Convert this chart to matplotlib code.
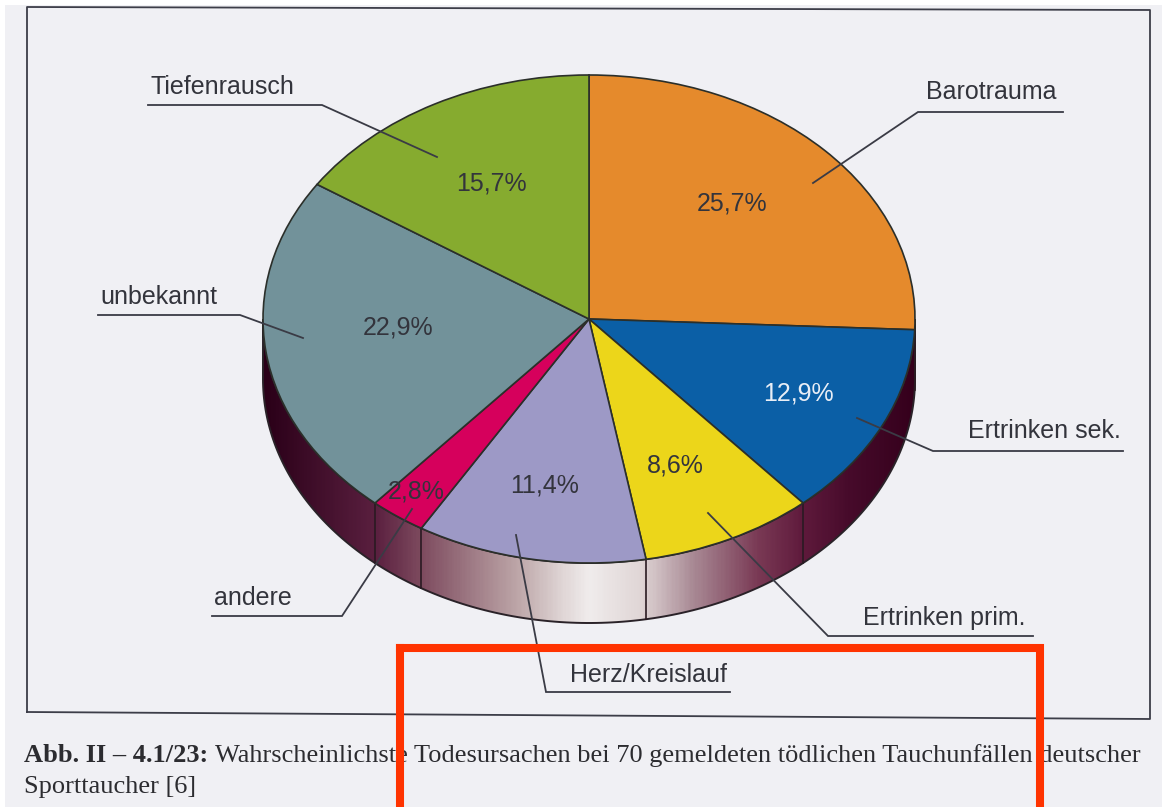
#! /usr/bin/env python3
import matplotlib
matplotlib.use('Agg')
import matplotlib.pyplot as plt
import numpy as np
from matplotlib.colors import LinearSegmentedColormap
from matplotlib.patches import Polygon, Rectangle

W, H = 1162, 807

# data, clockwise from 12 o'clock
causes = ['Barotrauma', 'Ertrinken sek.', 'Ertrinken prim.', 'Herz/Kreislauf',
          'andere', 'unbekannt', 'Tiefenrausch']
shares = [25.7, 12.9, 8.6, 11.4, 2.8, 22.9, 15.7]
share_labels = ['25,7%', '12,9%', '8,6%', '11,4%', '2,8%', '22,9%', '15,7%']
colors = ['#e58a2c', '#0b5fa6', '#ecd61a', '#9d99c6', '#d6005c', '#72929a', '#86ab2f']

# layout in image pixels
cx, cy, rx, ry = 589, 319, 326, 244
depth = 60
share_pos = [(732, 203), (798, 394), (675, 465), (545, 485), (416, 491), (398, 328), (491, 183)]
label_pos = [(991, 92), (1044, 431), (944, 618), (648, 675), (253, 598), (159, 297), (222, 87)]
leaders = [
    [(1063, 112), (918, 112), (813, 183)],
    [(1123, 451), (933, 451), (857, 418)],
    [(1033, 636), (828, 636), (708, 513)],
    [(730, 692), (546, 692), (516, 535)],
    [(212, 616), (342, 616), (412, 509)],
    [(98, 315), (240, 315), (303, 338)],
    [(148, 105), (322, 105), (437, 157)],
]
ink = '#33343c'
paper = '#f0f0f4'


def px_axes(fig, zorder):
    ax = fig.add_axes([0, 0, 1, 1], zorder=zorder)
    ax.set_xlim(0, W)
    ax.set_ylim(H, 0)
    ax.axis('off')
    return ax


fig = plt.figure(figsize=(W / 100, H / 100), dpi=100, facecolor='white')
plt.rcParams['font.family'] = ['Liberation Sans', 'DejaVu Sans']

# paper and frame
base = px_axes(fig, 0)
base.add_patch(Rectangle((5, 5), W - 5, H - 5, fc=paper, ec='none', zorder=1))
base.plot([27, 27, 1150, 1150, 27], [712, 7, 10, 719, 712], color='#3c3d48', lw=1.3, zorder=2)

# rim of the pie with the metallic gradient
t = np.linspace(0, np.pi, 200)
arc_x = cx + rx * np.cos(t)
arc_y = cy + ry * np.sin(t)
rim_xy = np.r_[np.c_[arc_x, arc_y], np.c_[arc_x[::-1], arc_y[::-1] + depth]]
rim_cmap = LinearSegmentedColormap.from_list('rim', [
    (0.00, '#2a0018'), (0.17, '#5a1f3f'), (0.24, '#7d4a5e'), (0.39, '#bda6a8'),
    (0.46, '#e0d6d6'), (0.50, '#f0ecec'), (0.58, '#e0d6d6'), (0.66, '#a98a95'),
    (0.76, '#7a3a55'), (0.83, '#5f1a3c'), (0.90, '#470b2b'), (1.00, '#35001c')])
img = base.imshow(np.linspace(0, 1, 400)[None, :], cmap=rim_cmap, aspect='auto', zorder=3,
                  extent=(cx - rx, cx + rx, cy + ry + depth, cy))
rim = Polygon(rim_xy, closed=True, fc='none', ec='#2a2228', lw=1.4, zorder=4)
base.add_patch(rim)
img.set_clip_path(rim)
base.set_xlim(0, W)
base.set_ylim(H, 0)

# dividers on the rim where a slice boundary faces the viewer
ends = np.cumsum(shares) / np.sum(shares) * 2 * np.pi
for a in ends:
    x = cx + rx * np.sin(a)
    y = cy - ry * np.cos(a)
    if np.cos(a) < 0:
        base.plot([x, x], [y, y + depth], color='#2a1a22', lw=1.2, zorder=5)

# top face, a unit pie stretched over the ellipse's box
pie_ax = fig.add_axes([(cx - rx) / W, 1 - (cy + ry) / H, 2 * rx / W, 2 * ry / H], zorder=1)
wedges, _ = pie_ax.pie(shares, colors=colors, startangle=90, counterclock=False, radius=1,
                       wedgeprops={'edgecolor': '#2b2f2a', 'linewidth': 1.2})
for w in wedges:
    w.set_clip_on(False)
pie_ax.set_aspect('auto')
pie_ax.set_xlim(-1, 1)
pie_ax.set_ylim(-1, 1)

# labels, leader lines, caption and the red box on top
top = px_axes(fig, 2)
for pts in leaders:
    xs, ys = zip(*pts)
    top.plot(xs, ys, color='#3a3b45', lw=1.3, solid_joinstyle='miter')
for name, pos in zip(causes, label_pos):
    top.text(pos[0], pos[1], name, fontsize=18, color=ink, ha='center', va='center')
for i, (lab, pos) in enumerate(zip(share_labels, share_pos)):
    c = '#e9eef6' if i == 1 else ink
    top.text(pos[0], pos[1], lab, fontsize=18, color=c, ha='center', va='center')

serif = ['Liberation Serif', 'DejaVu Serif']
top.text(24, 762, 'Abb. II – 4.1/23:', family=serif, fontsize=19, fontweight='bold', color='#2c2c30')
top.text(215, 762, 'Wahrscheinlichste Todesursachen bei 70 gemeldeten tödlichen Tauchunfällen deutscher',
         family=serif, fontsize=19, color='#2c2c30')
top.text(24, 793, 'Sporttaucher [6]', family=serif, fontsize=19, color='#2c2c30')

top.add_patch(Rectangle((400, 648), 640, 200, fc='none', ec='#ff3300', lw=5.8,
                        joinstyle='miter', capstyle='projecting', zorder=6))

fig.savefig('out.png', dpi=100, facecolor=fig.get_facecolor())
